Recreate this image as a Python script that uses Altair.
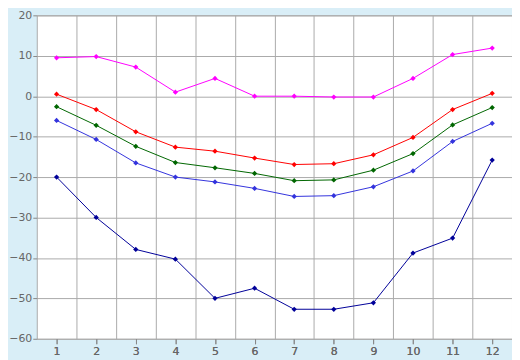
import altair as alt
import pandas as pd

months = list(range(1, 13))
magenta = [9.5, 9.8, 7.2, 1.0, 4.4, 0.0, 0.0, -0.2, -0.2, 4.4, 10.3, 11.9]
red = [0.5, -3.3, -8.8, -12.6, -13.6, -15.3, -16.9, -16.7, -14.5, -10.2, -3.3, 0.7]
green = [-2.6, -7.2, -12.4, -16.4, -17.7, -19.1, -20.9, -20.7, -18.3, -14.2, -7.1, -2.8]
blue = [-6.0, -10.7, -16.5, -20.0, -21.2, -22.8, -24.8, -24.6, -22.4, -18.5, -11.2, -6.7]
navy = [-20.0, -30.0, -37.9, -40.3, -50.0, -47.5, -52.7, -52.7, -51.1, -38.8, -35.1, -15.8]

series = {"magenta": magenta, "red": red, "green": green, "blue": blue, "navy": navy}
colors = ["#ff00ff", "#ff0000", "#006600", "#3333dd", "#000099"]
y_ticks = list(range(-60, 21, 10))
grid_x = [m + 0.5 for m in months[:-1]]

rows = []
for name, vals in series.items():
    for m, v in zip(months, vals):
        rows.append({"month": m, "value": v, "series": name})
df = pd.DataFrame(rows)

xscale = alt.Scale(domain=[0.5, 12.5], nice=False, zero=False)
yscale = alt.Scale(domain=[-60, 20], nice=False, zero=False)
cscale = alt.Scale(domain=list(series.keys()), range=colors)

x_main = alt.X("month:Q", scale=xscale, title=None,
               axis=alt.Axis(values=months, grid=False, tickSize=5, labelPadding=2,
                             domain=False))
y_main = alt.Y("value:Q", scale=yscale, title=None,
               axis=alt.Axis(values=y_ticks, grid=True, tickSize=4, labelPadding=1,
                             domain=False))

lines = alt.Chart(df).mark_line(strokeWidth=1).encode(
    x=x_main, y=y_main,
    color=alt.Color("series:N", scale=cscale, legend=None),
    detail="series:N",
)
points = alt.Chart(df).mark_point(shape="diamond", filled=True, size=28, opacity=1).encode(
    x=x_main, y=y_main,
    color=alt.Color("series:N", scale=cscale, legend=None),
)
gridlayer = alt.Chart(df).mark_point(opacity=0).encode(
    x=alt.X("month:Q", scale=xscale, title=None,
            axis=alt.Axis(values=grid_x, grid=True, labels=False, ticks=False,
                          domain=False, orient="top")),
    y=alt.Y("value:Q", scale=yscale, title=None),
)

chart = alt.layer(gridlayer, lines, points).resolve_axis(x="independent").properties(
    width=479, height=326,
    autosize=alt.AutoSizeParams(type="none"),
    padding={"left": 29, "top": 6, "right": 0, "bottom": 20},
    background="#d9eef7",
).configure_view(
    stroke="#aaaaaa", strokeWidth=1, fill="white"
).configure_axis(
    gridColor="#aaaaaa", gridOpacity=1, gridWidth=1,
    tickColor="#888888", labelColor="#666666",
    labelFont="DejaVu Sans", labelFontSize=11,
)

chart.save("out.html", embed_options={"renderer": "svg", "actions": False})
